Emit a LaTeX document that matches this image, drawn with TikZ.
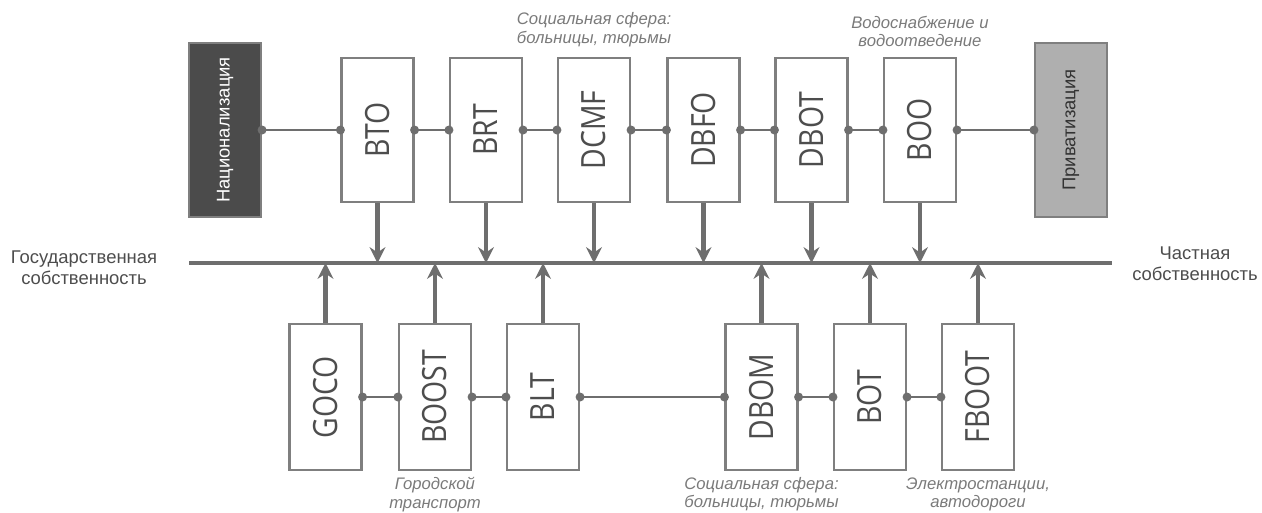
\documentclass[tikz,border=0pt]{standalone}
\usepackage{fontspec}
\usepackage{graphicx}
\setmainfont{Liberation Sans}
\newfontfamily\boxfont[FakeStretch=0.85]{Open Sans}
\usetikzlibrary{arrows.meta,positioning}
\definecolor{linegray}{HTML}{6E6E6E}
\definecolor{boxgray}{HTML}{7F7F7F}
\definecolor{textgray}{HTML}{4D4D4D}
\definecolor{notegray}{HTML}{7A7A7A}
\definecolor{darkbox}{HTML}{4B4B4B}
\definecolor{lightbox}{HTML}{AFAFAF}

\begin{document}
\begin{tikzpicture}[x=0.02cm, y=-0.02cm, every node/.style={inner sep=0pt}]
        \tikzstyle{scheme}=[draw=boxgray, line width=1.2pt, fill=white, minimum width=1.44cm, minimum height=2.88cm, text=textgray, font=\boxfont\fontsize{19}{19}\selectfont]
        \tikzstyle{bottom scheme}=[style=scheme, minimum height=2.92cm]
        \tikzstyle{side box}=[draw=boxgray, line width=1.2pt, minimum width=1.44cm, minimum height=3.48cm, font=\fontsize{10.5}{12}\selectfont]
        \tikzstyle{point}=[circle, fill=linegray, minimum size=0.18cm]
        \tikzstyle{link}=[draw=linegray, line width=1.2pt]
        \tikzstyle{bar}=[draw=linegray, line width=2.3pt]
        \tikzstyle{arrow}=[-{Stealth[length=9pt, width=9pt, inset=3pt]}, draw=linegray, fill=linegray, line width=2.3pt]
        \tikzstyle{side}=[align=center, text=textgray, font=\fontsize{10.5}{12}\selectfont]
        \tikzstyle{note}=[align=center, text=notegray, font=\itshape\fontsize{9.5}{10.5}\selectfont]
        %\draw [help lines] (0,0) grid (1262,512);
        \useasboundingbox (0,0) rectangle (1262,512);

        \node [style=side box, fill=darkbox, text=white] (nat) at (225, 130) {\rotatebox{90}{Национализация}};
        \node [style=side box, fill=lightbox, text=black!80] (priv) at (1071, 130) {\rotatebox{90}{Приватизация}};

        \node [style=scheme] (bto) at (377.5, 130) {\rotatebox{90}{BTO}};
        \node [style=scheme] (brt) at (486, 130) {\rotatebox{90}{BRT}};
        \node [style=scheme] (dcmf) at (594, 130) {\rotatebox{90}{DCMF}};
        \node [style=scheme] (dbfo) at (703.5, 130) {\rotatebox{90}{DBFO}};
        \node [style=scheme] (dbot) at (811.5, 130) {\rotatebox{90}{DBOT}};
        \node [style=scheme] (boo) at (920, 130) {\rotatebox{90}{BOO}};

        \node [style=bottom scheme] (goco) at (325.5, 397) {\rotatebox{90}{GOCO}};
        \node [style=bottom scheme] (boost) at (435, 397) {\rotatebox{90}{BOOST}};
        \node [style=bottom scheme] (blt) at (543, 397) {\rotatebox{90}{BLT}};
        \node [style=bottom scheme] (dbom) at (761.5, 397) {\rotatebox{90}{DBOM}};
        \node [style=bottom scheme] (bot) at (870, 397) {\rotatebox{90}{BOT}};
        \node [style=bottom scheme] (fboot) at (978, 397) {\rotatebox{90}{FBOOT}};

        \coordinate (bar-l) at (189, 263);
        \coordinate (bar-r) at (1112, 263);
        \draw [style=bar] (bar-l) to (bar-r);

        \foreach \n in {bto,brt,dcmf,dbfo,dbot,boo}
            \draw [style=arrow] (\n.south) to (\n.south |- bar-l);
        \foreach \n in {goco,boost,blt,dbom,bot,fboot}
            \draw [style=arrow] (\n.north) to (\n.north |- bar-l);

        \foreach \a/\b in {nat/bto,bto/brt,brt/dcmf,dcmf/dbfo,dbfo/dbot,dbot/boo,boo/priv,goco/boost,boost/blt,blt/dbom,dbom/bot,bot/fboot} {
            \draw [style=link] (\a.east) to (\b.west);
            \node [style=point] at (\a.east) {};
            \node [style=point] at (\b.west) {};
        }

        \node [style=side] (state) at (84, 268) {Государственная\\собственность};
        \node [style=side] (private) at (1195, 264) {Частная\\собственность};

        \node [style=note, above=0.2cm of dcmf] (dcmf-note) {Социальная сфера:\\больницы, тюрьмы};
        \node [style=note, above=0.2cm of boo] (boo-note) {Водоснабжение и\\водоотведение};
        \node [style=note, below=0.12cm of boost] (boost-note) {Городской\\транспорт};
        \node [style=note, below=0.12cm of dbom] (dbom-note) {Социальная сфера:\\больницы, тюрьмы};
        \node [style=note, below=0.12cm of fboot] (fboot-note) {Электростанции,\\автодороги};
\end{tikzpicture}
\end{document}
